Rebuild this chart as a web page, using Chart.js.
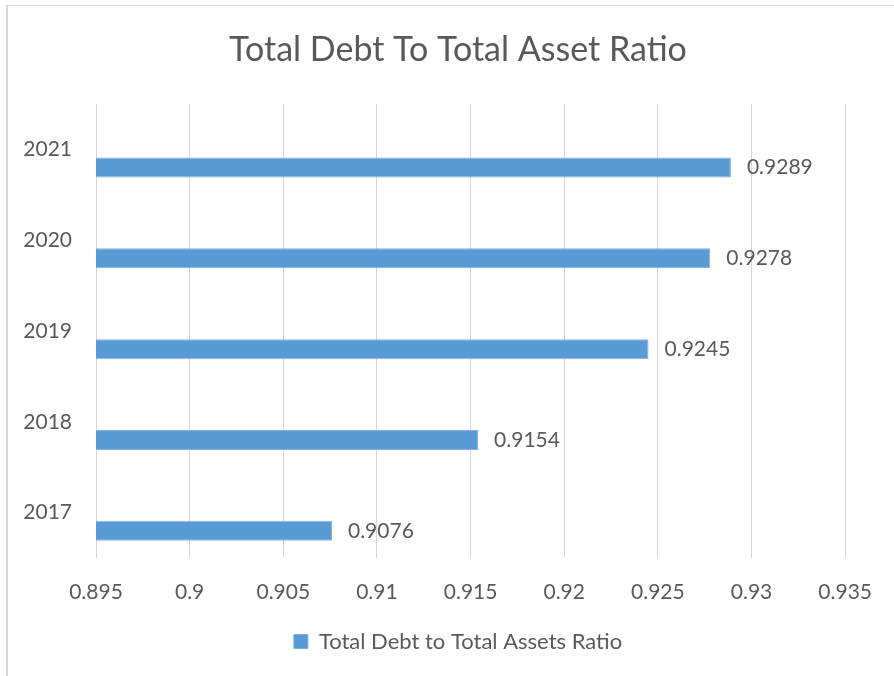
<!DOCTYPE html>
<html>
<head>
<meta charset="utf-8">
<title>Total Debt To Total Asset Ratio</title>
<script src="https://cdn.jsdelivr.net/npm/chart.js@4"></script>
<style>
  html, body { margin: 0; padding: 0; background: #ffffff; }
  #frame {
    position: absolute; left: 6px; top: 5px; width: 886px; height: 671px;
    border-left: 2px solid #d9d9d9; border-top: 1px solid #d9d9d9;
  }
  #wrap { position: absolute; left: 0; top: 0; width: 894px; height: 676px; }
</style>
</head>
<body>
<div id="frame"></div>
<div id="wrap"><canvas id="chart" width="894" height="676"></canvas></div>
<script>
// Fiscal years, listed top to bottom
const years = ['2021', '2020', '2019', '2018', '2017'];
// Total debt / total assets for each year
const debtRatio = [0.9289, 0.9278, 0.9245, 0.9154, 0.9076];
// Labels for the value axis
const xTickLabels = ['0.895', '0.9', '0.905', '0.91', '0.915', '0.92', '0.925', '0.93', '0.935'];
const seriesName = 'Total Debt to Total Assets Ratio';

const TEXT = '#595959';
const FONT = 'Lato';

// Writes each bar's value just past its end
const valueLabels = {
  id: 'valueLabels',
  afterDatasetsDraw(chart) {
    const ctx = chart.ctx;
    const meta = chart.getDatasetMeta(1);
    ctx.save();
    ctx.font = '21px ' + FONT;
    ctx.fillStyle = TEXT;
    ctx.textAlign = 'left';
    ctx.textBaseline = 'middle';
    meta.data.forEach((bar, i) => {
      ctx.fillText(String(debtRatio[i]), bar.x + 16, bar.y);
    });
    ctx.restore();
  }
};

new Chart(document.getElementById('chart'), {
  type: 'bar',
  data: {
    labels: years,
    datasets: [
      { label: '', data: years.map(() => null) },
      {
        label: seriesName,
        data: debtRatio,
        backgroundColor: '#5b9bd5',
        borderColor: '#7fb0de',
        borderWidth: 1,
        borderSkipped: false
      }
    ]
  },
  options: {
    indexAxis: 'y',
    responsive: false,
    animation: false,
    categoryPercentage: 0.8,
    barPercentage: 0.55,
    layout: { padding: { left: 22, right: 0, top: 0, bottom: 13.5 } },
    scales: {
      x: {
        min: 0.895,
        max: 0.935,
        ticks: {
          stepSize: 0.005,
          color: TEXT,
          font: { family: FONT, size: 21 },
          padding: 22,
          callback: (v, i) => xTickLabels[i]
        },
        grid: { color: '#d6d6d6', lineWidth: 1, drawTicks: false },
        border: { display: false },
        afterFit(s) { s.height = 62.5; }
      },
      y: {
        ticks: {
          color: TEXT,
          font: { family: FONT, size: 21 },
          padding: 24
        },
        grid: { display: false, drawTicks: false },
        border: { display: false },
        afterFit(s) { s.width = 74; }
      },
      // empty margin axis on the right edge of the plot
      yMargin: {
        axis: 'y',
        type: 'category',
        position: 'right',
        ticks: { display: false },
        grid: { display: false, drawTicks: false },
        border: { display: false },
        afterFit(s) { s.width = 44; }
      }
    },
    plugins: {
      title: {
        display: true,
        text: 'Total Debt To Total Asset Ratio',
        color: TEXT,
        font: { family: FONT, size: 34, weight: 'normal' },
        padding: { top: 29.5, bottom: 33.7 }
      },
      legend: {
        position: 'bottom',
        labels: {
          color: TEXT,
          font: { family: FONT, size: 22 },
          boxWidth: 14,
          boxHeight: 14,
          padding: 10,
          filter: item => item.text !== ''
        }
      },
      tooltip: { enabled: false }
    }
  },
  plugins: [valueLabels]
});
</script>
</body>
</html>
